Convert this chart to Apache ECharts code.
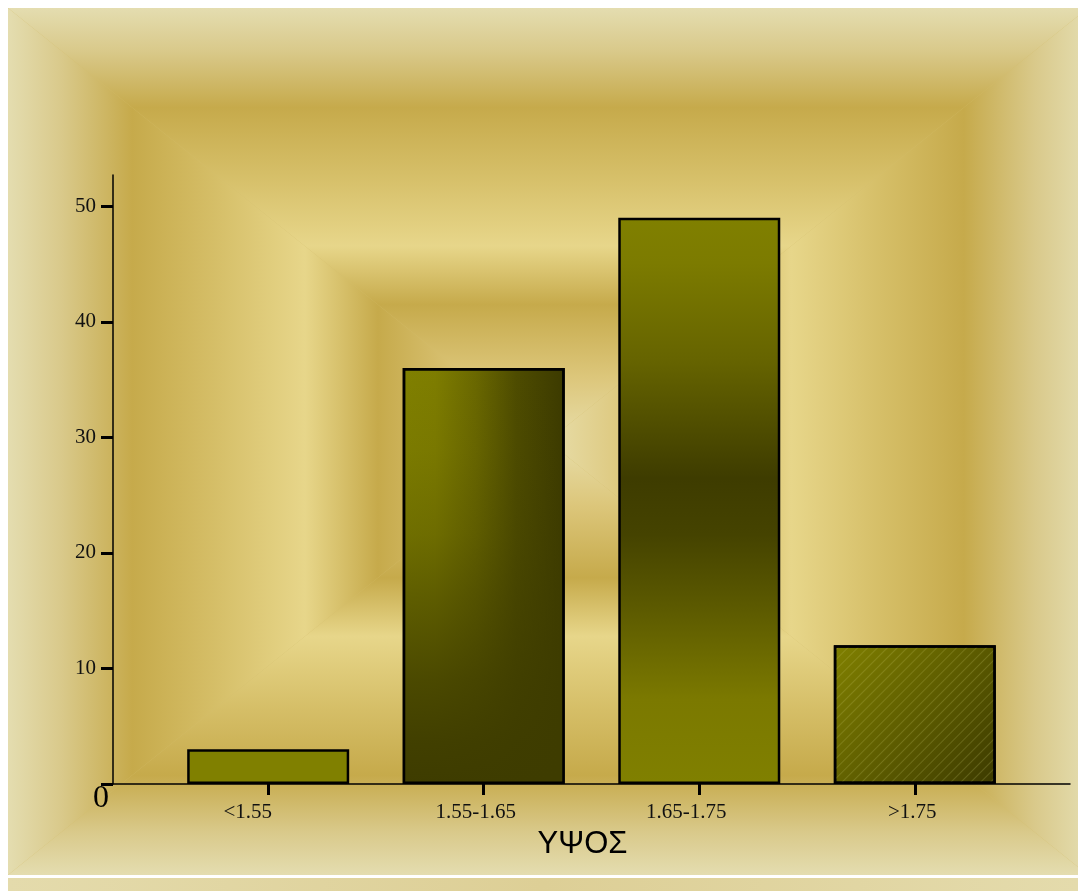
<!DOCTYPE html>
<html>
<head>
<meta charset="utf-8">
<title>ΥΨΟΣ</title>
<script src="https://cdn.jsdelivr.net/npm/echarts@6/dist/echarts.min.js"></script>
<style>
  html, body { margin: 0; padding: 0; background: #ffffff; }
  #chart { width: 1078px; height: 891px; }
</style>
</head>
<body>
<div id="chart"></div>
<script>
// Height classes and the number of people in each
const categories = ['<1.55', '1.55-1.65', '1.65-1.75', '>1.75'];
const counts = [3, 36, 49, 12];
const yTicks = [0, 10, 20, 30, 40, 50];
const xTitle = 'ΥΨΟΣ';
const zeroLabel = '0';

const OLIVE = '#808000';
const G = echarts.graphic;

// Fill of each bar
const barFills = [
  { color: OLIVE },
  { color: new G.LinearGradient(0, 0, 1, 0, [
      { offset: 0, color: '#808000' },
      { offset: 0.2, color: '#7e7d00' },
      { offset: 0.45, color: '#6a6800' },
      { offset: 0.7, color: '#4e4c00' },
      { offset: 1, color: '#3c3a00' }
  ]) },
  { color: new G.LinearGradient(0, 0, 0, 1, [
      { offset: 0, color: '#808000' },
      { offset: 0.08, color: '#7c7b00' },
      { offset: 0.25, color: '#666400' },
      { offset: 0.46, color: '#3e3c00' },
      { offset: 0.56, color: '#454300' },
      { offset: 0.7, color: '#5e5c00' },
      { offset: 0.85, color: '#7b7900' },
      { offset: 1, color: '#808000' }
  ]) },
  { color: new G.LinearGradient(0, 0, 1, 1, [
      { offset: 0, color: '#808000' },
      { offset: 1, color: '#3c3a00' }
  ]),
    decal: {
      symbol: 'rect', symbolSize: 1,
      dashArrayX: [1, 0], dashArrayY: [1, 6],
      rotation: -Math.PI / 4,
      color: 'rgba(200,200,110,0.22)'
    } }
];

// Darkening toward the bottom of the second bar
const shadeFill = new G.LinearGradient(0, 0, 0, 1, [
  { offset: 0, color: 'rgba(62,60,0,0)' },
  { offset: 0.2, color: 'rgba(62,60,0,0.08)' },
  { offset: 0.4, color: 'rgba(62,60,0,0.26)' },
  { offset: 0.55, color: 'rgba(62,60,0,0.5)' },
  { offset: 0.75, color: 'rgba(62,60,0,0.8)' },
  { offset: 0.9, color: 'rgba(62,60,0,0.95)' },
  { offset: 1, color: 'rgba(62,60,0,1)' }
]);

// Framed backdrop: four mitred triangles, each shaded from its edge to the centre
const P = { l: 8, t: 8, r: 1088, b: 875, cx: 548, cy: 441 };
const bgStops = [
  { offset: 0, color: '#e4ddb0' },
  { offset: 0.1, color: '#d9c98a' },
  { offset: 0.23, color: '#c6aa4b' },
  { offset: 0.38, color: '#d5be67' },
  { offset: 0.55, color: '#e7d68a' },
  { offset: 0.685, color: '#c6aa4b' },
  { offset: 0.85, color: '#dcc67a' },
  { offset: 1, color: '#e8deaa' }
];
function tri(id, pts, x, y, x2, y2) {
  return {
    id: id, type: 'polygon', z: -10, silent: true,
    shape: { points: pts },
    style: { fill: new G.LinearGradient(x, y, x2, y2, bgStops) }
  };
}
const backdrop = [
  { id: 'bgBase', type: 'rect', z: -11, silent: true,
    shape: { x: P.l, y: P.t, width: P.r - P.l, height: P.b - P.t },
    style: { fill: '#d3bd6c' } },
  tri('bgTop', [[P.l, P.t], [P.r, P.t], [P.cx, P.cy]], 0, 0, 0, 1),
  tri('bgBottom', [[P.l, P.b], [P.r, P.b], [P.cx, P.cy]], 0, 1, 0, 0),
  tri('bgLeft', [[P.l, P.t], [P.l, P.b], [P.cx, P.cy]], 0, 0, 1, 0),
  tri('bgRight', [[P.r, P.t], [P.r, P.b], [P.cx, P.cy]], 1, 0, 0, 0),
  { id: 'bgStrip', type: 'rect', z: -11, silent: true,
    shape: { x: P.l, y: 878, width: 1078 - P.l, height: 13 },
    style: { fill: new G.LinearGradient(0, 0, 1, 0, [
      { offset: 0, color: '#e4dbac' },
      { offset: 0.5, color: '#ddcf96' },
      { offset: 1, color: '#e4dbac' }
    ]) } }
];

// Per-label nudges of the category names
const labelRich = {
  c0: { padding: [0, 41, 0, 0] },
  c1: { padding: [0, 16, 0, 0] },
  c2: { padding: [0, 26, 0, 0] },
  c3: { padding: [0, 5, 0, 0] }
};

const serif = "'Liberation Serif', 'Times New Roman', serif";
const catIdx = categories.map((c, i) => i);

const chart = echarts.init(document.getElementById('chart'), null, { renderer: 'canvas' });
chart.setOption({
  animation: false,
  backgroundColor: 'transparent',
  graphic: backdrop,
  grid: { left: 113, right: 8, top: 175, bottom: 107, containLabel: false, outerBoundsMode: 'none' },
  xAxis: {
    type: 'value',
    min: -0.72, max: 3.72,
    splitLine: { show: false },
    axisLine: { show: true, lineStyle: { color: '#000', width: 1.5 } },
    axisTick: { show: true, customValues: catIdx, length: 11, lineStyle: { color: '#000', width: 3 } },
    axisLabel: {
      customValues: catIdx,
      margin: 18,
      fontFamily: serif, fontSize: 21, color: '#111',
      formatter: function (v) {
        const i = Math.round(v);
        return '{c' + i + '|' + categories[i] + '}';
      },
      rich: labelRich
    },
    name: xTitle,
    nameLocation: 'middle',
    nameGap: 45,
    nameTextStyle: { fontFamily: "'Liberation Sans', Arial, sans-serif", fontSize: 31, color: '#000', padding: [0, 18, 0, 0] }
  },
  yAxis: {
    type: 'value',
    min: 0, max: 52.7,
    splitLine: { show: false },
    axisLine: { show: true, onZero: false, lineStyle: { color: '#000', width: 1.5 } },
    axisTick: { show: true, customValues: yTicks, length: 12, lineStyle: { color: '#000', width: 3 } },
    axisLabel: {
      customValues: yTicks.filter(v => v !== 0),
      margin: 17,
      fontFamily: serif, fontSize: 21, color: '#111'
    }
  },
  series: [
    {
      type: 'bar',
      barWidth: 162,
      barGap: '-100%',
      emphasis: { disabled: true },
      data: counts.map((v, i) => ({
        value: [i, v],
        itemStyle: Object.assign({ borderColor: '#000', borderWidth: 2.5 }, barFills[i])
      }))
    },
    {
      type: 'bar',
      barWidth: 162,
      barGap: '-100%',
      emphasis: { disabled: true },
      itemStyle: { color: shadeFill, borderColor: '#000', borderWidth: 2.5 },
      data: [[1, counts[1]]]
    }
  ]
});

// Large zero at the origin
const ox = chart.convertToPixel({ xAxisIndex: 0 }, -0.72);
const oy = chart.convertToPixel({ yAxisIndex: 0 }, 0);
chart.setOption({
  graphic: [{
    id: 'zeroLabel', type: 'text', z: 5, silent: true,
    x: ox - 12, y: oy + 15,
    style: {
      text: zeroLabel, fontFamily: serif, fontSize: 32, fill: '#000',
      align: 'center', verticalAlign: 'middle'
    }
  }]
});
</script>
</body>
</html>
